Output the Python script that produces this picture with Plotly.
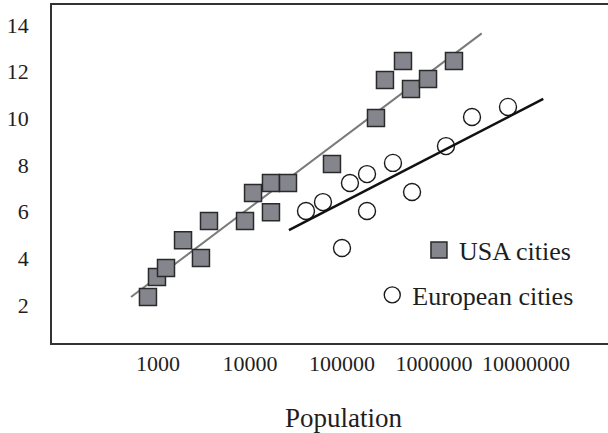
import plotly.graph_objects as go

# USA cities (population, value)
usa_pop = [778, 975, 1222, 1871, 2931, 3583, 8826, 10790, 16900, 16900, 25880,
           77800, 234000, 293000, 460000, 562000, 861000, 1648000]
usa_val = [2.34, 3.2, 3.58, 4.78, 4.01, 5.6, 5.6, 6.8, 7.23, 5.98, 7.23,
           8.04, 10.01, 11.64, 12.46, 11.26, 11.69, 12.46]

# European cities
eu_pop = [40600, 62100, 100000, 122000, 187000, 187000, 358000, 577000,
          1349000, 2588000, 6370000]
eu_val = [6.03, 6.41, 4.44, 7.23, 7.61, 6.03, 8.09, 6.84, 8.81, 10.06, 10.49]

# fitted trend lines (end points)
usa_fit_pop = [509, 3300000]
usa_fit_val = [2.34, 13.64]
eu_fit_pop = [26500, 15400000]
eu_fit_val = [5.21, 10.83]

x_ticks = [1000, 10000, 100000, 1000000, 10000000]
x_tick_labels = ["1000", "10000", "100000", "1000000", "10000000"]
y_ticks = [2, 4, 6, 8, 10, 12, 14]

FONT = "Liberation Serif"
TXT = "#1e1e1e"

fig = go.Figure()

fig.add_trace(go.Scatter(
    x=usa_fit_pop, y=usa_fit_val, mode="lines",
    line=dict(color="#7a7a7a", width=2), showlegend=False, hoverinfo="skip"))

fig.add_trace(go.Scatter(
    x=usa_pop, y=usa_val, mode="markers", name="USA cities",
    marker=dict(symbol="square", size=17, color="#85858e",
                line=dict(color="#2a2a2a", width=1.5)),
    legend="legend"))

fig.add_trace(go.Scatter(
    x=eu_pop, y=eu_val, mode="markers", name="European cities",
    marker=dict(symbol="circle", size=17, color="rgba(255,255,255,0)",
                line=dict(color="#1a1a1a", width=1.4)),
    legend="legend2"))

fig.add_trace(go.Scatter(
    x=eu_fit_pop, y=eu_fit_val, mode="lines",
    line=dict(color="#111111", width=2.6), showlegend=False, hoverinfo="skip"))

fig.update_layout(
    width=608, height=433,
    margin=dict(l=52, r=0, t=5, b=90),
    paper_bgcolor="white", plot_bgcolor="white",
    font=dict(family=FONT, color=TXT, size=22),
    xaxis=dict(
        type="log", range=[1.848, 7.891],
        tickvals=x_ticks, ticktext=x_tick_labels,
        showgrid=False, zeroline=False,
        showline=True, linecolor="#333333", linewidth=1.6, mirror=True,
        ticks="", ticklabelstandoff=0,
        tickfont=dict(family=FONT, size=22, color=TXT),
        automargin=False,
    ),
    yaxis=dict(
        range=[0.371, 14.857],
        tickvals=y_ticks,
        showgrid=False, zeroline=False,
        showline=True, linecolor="#333333", linewidth=1.6, mirror=False,
        ticks="", ticklabelstandoff=17,
        tickfont=dict(family=FONT, size=22, color=TXT),
        automargin=False,
    ),
    legend=dict(x=0.66, y=0.275, xanchor="left", yanchor="middle",
                bgcolor="rgba(0,0,0,0)",
                font=dict(family=FONT, size=26, color=TXT)),
    legend2=dict(x=0.576, y=0.142, xanchor="left", yanchor="middle",
                 bgcolor="rgba(0,0,0,0)",
                 font=dict(family=FONT, size=26, color=TXT)),
    annotations=[dict(
        text="Population", xref="paper", yref="paper",
        x=(344 - 52) / 556, y=-(418 - 343) / 338,
        xanchor="center", yanchor="middle", showarrow=False,
        font=dict(family=FONT, size=27, color=TXT))],
)

fig.write_html("out.html",
               config={"displayModeBar": False},
               post_script="document.body.style.margin='0';"
                           "document.body.style.overflow='hidden';")
